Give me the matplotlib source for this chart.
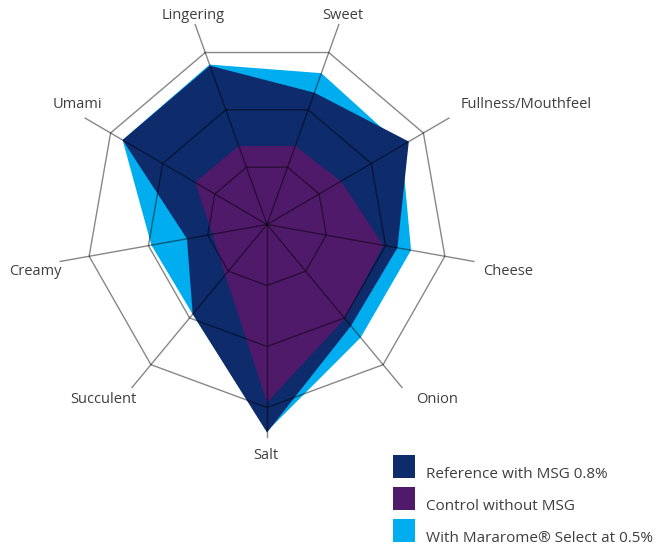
import numpy as np
import matplotlib
matplotlib.use("Agg")
import matplotlib.pyplot as plt
from matplotlib.patches import Rectangle

categories = ["Lingering", "Sweet", "Fullness/Mouthfeel", "Cheese", "Onion",
              "Salt", "Succulent", "Creamy", "Umami"]
reference_msg = [2.77, 2.30, 2.72, 2.20, 2.17, 3.41, 1.92, 1.35, 2.77]
control_no_msg = [1.37, 1.37, 1.42, 1.96, 2.01, 2.92, 1.08, 0.92, 1.38]
mararome_select = [2.79, 2.64, 2.58, 2.43, 2.42, 3.39, 1.92, 1.95, 2.77]
series_labels = ["Reference with MSG 0.8%", "Control without MSG",
                 "With Mararome\u00ae Select at 0.5%"]
ring_levels = [1, 2, 3]
r_max = 3.5

c_navy = "#0e2b6c"
c_purple = "#4f1a6a"
c_cyan = "#00aeef"
text_col = "#3e3e3e"

plt.rcParams['font.family'] = ['Open Sans', 'DejaVu Sans']

W, H = 666, 546
fig = plt.figure(figsize=(W / 100, H / 100), dpi=100)
ax = fig.add_axes([56.3 / W, 108 / H, 421.4 / W, 427 / H], projection='polar')
ax.set_aspect('auto')
ax.set_theta_offset(np.deg2rad(110))
ax.set_theta_direction(-1)
ax.set_ylim(0, r_max)
ax.grid(False)
ax.set_xticks([])
ax.set_yticks([])
ax.spines['polar'].set_visible(False)
ax.patch.set_alpha(0)

n = len(categories)
theta = np.arange(n) * 2 * np.pi / n
tc = np.append(theta, theta[0])

def closed(v):
    return np.append(v, v[0])

ax.fill(tc, closed(mararome_select), color=c_cyan, lw=0, zorder=1)
ax.fill(tc, closed(reference_msg), color=c_navy, lw=0, zorder=2)
ax.fill(tc, closed(control_no_msg), color=c_purple, lw=0, zorder=3)

for lv in ring_levels:
    ax.plot(tc, [lv] * (n + 1), color="black", alpha=0.47, lw=1.0, zorder=4)
for t in theta:
    ax.plot([t, t], [0, r_max], color="black", alpha=0.47, lw=1.0, zorder=4)

# label offsets (pixels) from the end of each spoke, to the text baseline
offsets = {
    "Lingering": (-2, 4.6, "center"),
    "Sweet": (3.3, 4.6, "center"),
    "Fullness/Mouthfeel": (11.5, 9.7, "left"),
    "Cheese": (8.5, -13.4, "left"),
    "Onion": (13.6, -15, "left"),
    "Salt": (-1, -21, "center"),
    "Succulent": (5.4, -15, "right"),
    "Creamy": (2.2, -13.4, "right"),
    "Umami": (17.2, 9.5, "right"),
}
for t, cat in zip(theta, categories):
    dx, dy, ha = offsets[cat]
    ax.annotate(cat, xy=(t, r_max), xytext=(dx, dy), textcoords='offset pixels',
                ha=ha, va='baseline', fontsize=10.5, color=text_col,
                annotation_clip=False)

# legend drawn as swatches + text
for i, (c, lab) in enumerate(zip((c_navy, c_purple, c_cyan), series_labels)):
    top = 455 + i * 32
    fig.add_artist(Rectangle((392.5 / W, 1 - (top + 22.7) / H), 22.3 / W, 22.7 / H,
                             transform=fig.transFigure, facecolor=c, edgecolor='none'))
    fig.text(426 / W, 1 - (top + 22.7) / H, lab, ha='left', va='baseline',
             fontsize=11, color=text_col)

fig.savefig("out.png", dpi=100)
